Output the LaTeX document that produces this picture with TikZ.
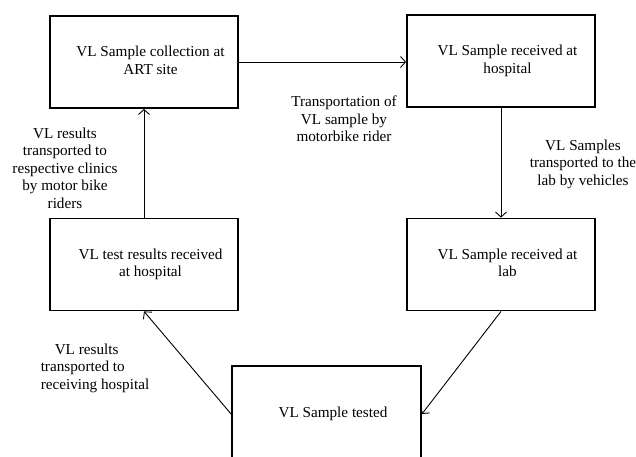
\documentclass[tikz,border=0pt]{standalone}
\usepackage{fontspec}
\setmainfont{Liberation Serif}
\usetikzlibrary{arrows.meta}
\newcommand{\boxtext}[1]{\hspace*{13pt}\begin{tabular}{@{}c@{}}#1\end{tabular}}
\begin{document}
\begin{tikzpicture}[x=1pt,y=-1pt,
  every node/.style={font=\fontsize{15.2}{17.5}\selectfont, inner sep=0pt},
  box/.style={draw, line width=1.8pt, minimum width=188pt, minimum height=92pt},
  lbl/.style={align=center},
  arr/.style={line width=0.9pt, -{Straight Barb[length=5pt,width=11pt,line width=0.9pt]}}]
\useasboundingbox (0,0) rectangle (636,456);
\clip (0,0) rectangle (636,456);
\fill[white] (0,0) rectangle (636,456);
\node[box] (A) at (144,62) {\boxtext{VL Sample collection at\\ART site}};
\node[box] (B) at (501,61) {\boxtext{VL Sample received at\\hospital}};
\node[box] (C) at (144,264.5) {\boxtext{VL test results received\\at hospital}};
\node[box] (D) at (501,264.5) {\boxtext{VL Sample received at\\lab}};
\node[box, minimum width=189pt, minimum height=96pt] (E) at (326.5,414) {\boxtext{VL Sample tested}};
\draw[arr] (A.east) -- (A.east -| B.west);
\draw[arr] (B.south) -- (D.north);
\draw[arr] (D.south) -- (E.east);
\draw[arr] (E.west) -- (C.south);
\draw[arr] (C.north) -- (A.south);
\node[lbl] (L1) at (344,119) {Transportation of\\VL sample by\\motorbike rider};
\node[lbl] (L2) at (583,164) {VL Samples\\transported to the\\lab by vehicles};
\node[lbl] (L3) at (65,168) {VL results\\transported to\\respective clinics\\by motor bike\\riders};
\node[align=left] (L4) at (95,368) {\hspace{14pt}VL results\\transported to\\receiving hospital};
\end{tikzpicture}
\end{document}
